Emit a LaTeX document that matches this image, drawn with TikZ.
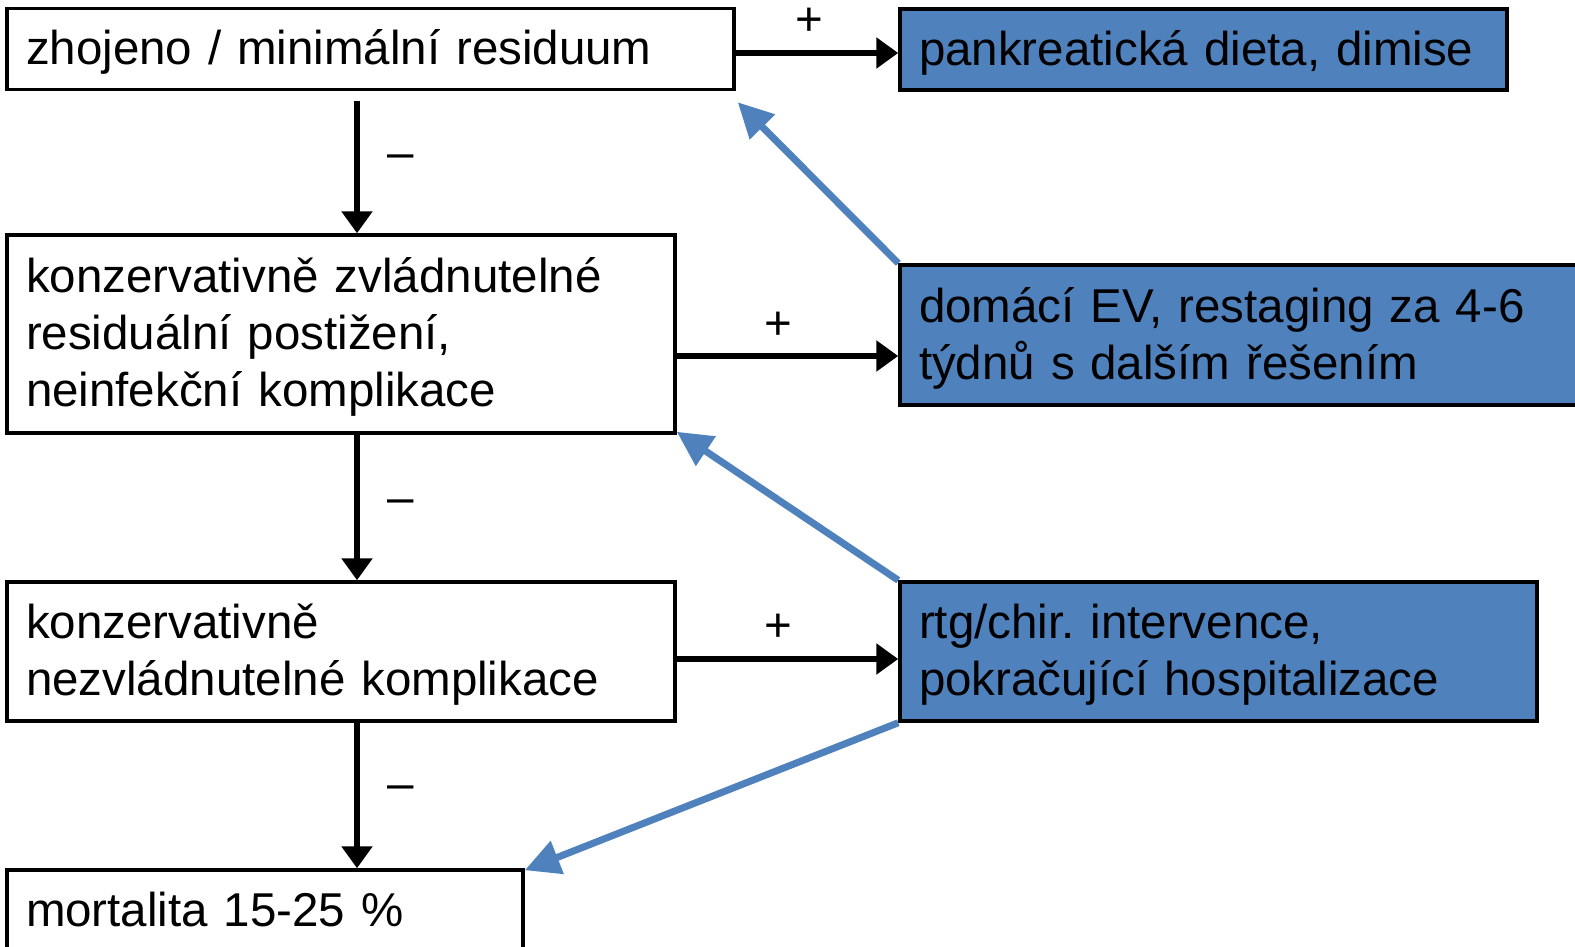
\documentclass[tikz,border=0pt]{standalone}
\usepackage{fontspec}
\setmainfont{Liberation Sans}
\usetikzlibrary{arrows.meta,calc}
\definecolor{obl}{HTML}{4F81BD}
\frenchspacing
\begin{document}
\begin{tikzpicture}[x=1pt,y=-1pt,
  box/.style={draw=black, line width=3.5pt, fill=white, inner xsep=19pt, inner ysep=0pt, align=left, font=\fontsize{47.5}{57}\selectfont\frenchspacing, execute at begin node={\endgraf\vspace*{-8.5pt}\noindent}, execute at end node={\strut}},
  bbox/.style={box, fill=obl},
  blk/.style={line width=5.5pt, -{Triangle[length=22pt,width=30pt]}},
  blu/.style={draw=obl, line width=7pt, -{Triangle[length=35pt,width=34pt]}},
  lbl/.style={font=\fontsize{47.5}{57}\selectfont, anchor=base, inner sep=0pt}
]
\useasboundingbox (0,0) rectangle (1575,947);
\clip (0,0) rectangle (1575,947);

\node[box, text width=689pt, minimum height=81pt] (b1) at (370.5,49) {zhojeno / minimální residuum};
\node[box, text width=630pt, minimum height=198pt] (b2) at (341,334) {konzervativně zvládnutelné\\residuální postižení,\\neinfekční komplikace};
\node[box, text width=630pt, minimum height=139pt] (b3) at (341,651.5) {konzervativně\\nezvládnutelné komplikace};
\node[box, text width=478pt, minimum height=82pt] (b4) at (265,911) {mortalita 15-25 \%};

\node[bbox, text width=569pt, minimum height=81pt] (g1) at (1203.5,49.5) {pankreatická dieta, dimise};
\node[bbox, text width=662pt, minimum height=140pt] (g2) at (1250,335) {domácí EV, restaging za 4-6\\týdnů s dalším řešením};
\node[bbox, text width=599pt, minimum height=139pt] (g3) at (1218.5,651.5) {rtg/chir. intervence,\\pokračující hospitalizace};

\coordinate (vx) at (357,0);

% horizontal arrows
\draw[blk] ([yshift=-4pt]b1.east) -- ([yshift=-4pt]b1.east -| g1.west)
  node[lbl, pos=0.45, yshift=17pt] {+};
\draw[blk] ([yshift=-22pt]b2.east) -- ([yshift=-22pt]b2.east -| g2.west)
  node[lbl, pos=0.46, yshift=17pt] {+};
\draw[blk] ([yshift=-7.5pt]b3.east) -- ([yshift=-7.5pt]b3.east -| g3.west)
  node[lbl, pos=0.46, yshift=18pt] {+};

% vertical arrows
\draw[blk] ($(b1.south -| vx)+(0,10)$) -- (b2.north -| vx)
  node[lbl, pos=0.41, xshift=44pt, yshift=-13pt] {–};
\draw[blk] (b2.south -| vx) -- (b3.north -| vx)
  node[lbl, pos=0.45, xshift=44pt, yshift=-13pt] {–};
\draw[blk] (b3.south -| vx) -- (b4.north -| vx)
  node[lbl, pos=0.44, xshift=44pt, yshift=-13pt] {–};

% blue arrows
\draw[blu] (g2.north west) -- ([xshift=2pt,yshift=-11pt]b1.south east);
\draw[blu] (g3.north west) -- ([yshift=3pt]b2.south east);
\draw[blu] (g3.south west) -- ([yshift=-2pt]b4.north east);
\end{tikzpicture}
\end{document}
